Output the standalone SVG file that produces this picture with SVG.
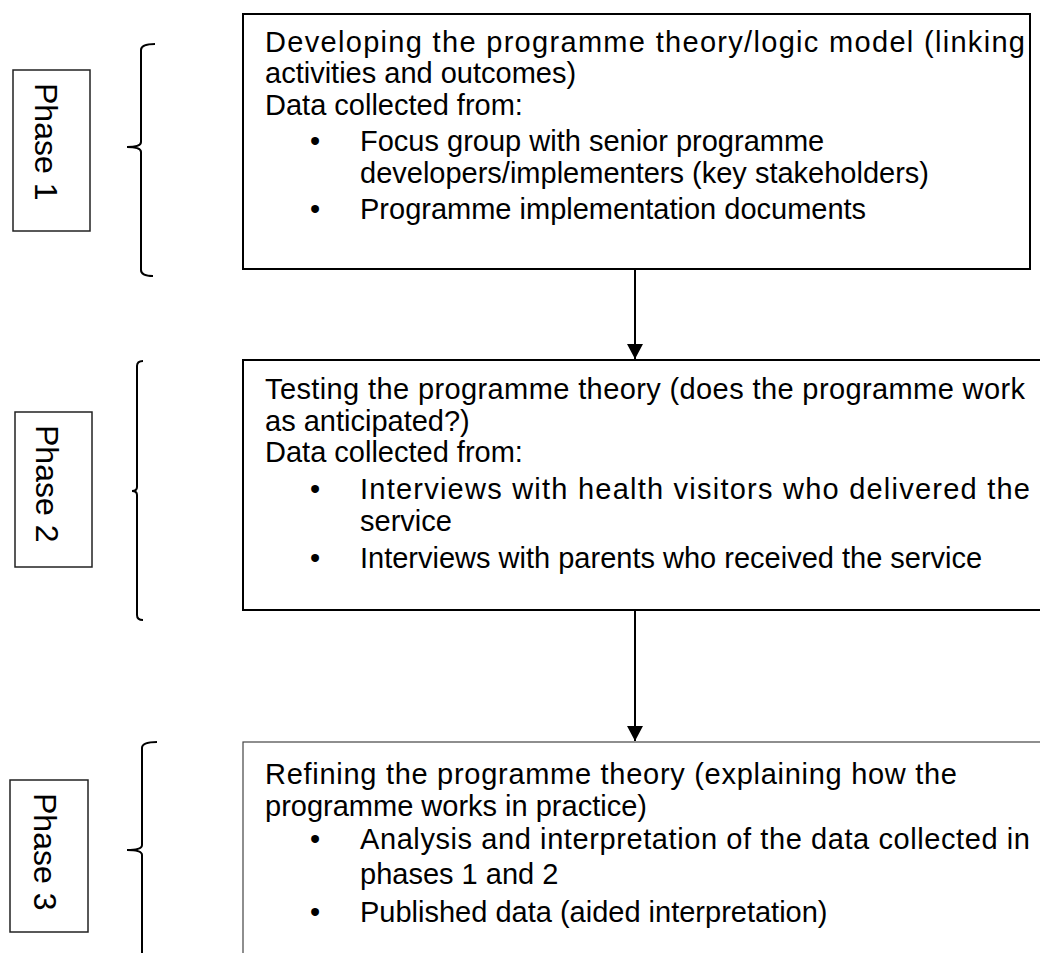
<svg xmlns="http://www.w3.org/2000/svg" width="1040" height="953" viewBox="0 0 1040 953">
<style>
  text { font-family: "Liberation Sans", Arial, sans-serif; font-size: 29px; fill: #000; }
  .ph { font-size: 32px; }
  .box { fill: #fff; stroke: #000; stroke-width: 2; }
  .box3 { fill: #fff; stroke: #444; stroke-width: 1.2; }
  .pbox { fill: #fff; stroke: #222; stroke-width: 1.5; }
  .brace { fill: none; stroke: #000; stroke-width: 2; }
  .conn { stroke: #000; stroke-width: 2; fill: none; }
</style>
<defs>
  <marker id="arr" markerWidth="16" markerHeight="16" refX="15" refY="8" orient="auto" markerUnits="userSpaceOnUse">
    <path d="M0,0 L15,8 L0,16 Z" fill="#000"/>
  </marker>
</defs>
<rect width="1040" height="953" fill="#fff"/>

<g id="brace1"><path class="brace" d="M155,44 Q141,44 141,50 L141,142 Q141,147 127,147 Q141,147 141,152 L141,270 Q141,276 153,276"/></g>
<g id="brace2"><path class="brace" d="M143,361 Q137,361 137,366 L137,487 Q137,491 132,491 Q137,491 137,495 L137,615 Q137,620 143,620"/></g>
<g id="brace3"><path class="brace" d="M157,742 Q142,742 142,748 L142,845 Q142,850 127,850 Q142,850 142,855 L142,960"/></g>

<g id="phase1">
  <rect class="pbox" x="13" y="70" width="77" height="161"/>
  <text class="ph" transform="translate(35,83) rotate(90)">Phase 1</text>
</g>
<g id="phase2">
  <rect class="pbox" x="15" y="412" width="77" height="155"/>
  <text class="ph" transform="translate(36,425) rotate(90)">Phase 2</text>
</g>
<g id="phase3">
  <rect class="pbox" x="10" y="780" width="78" height="152"/>
  <text class="ph" transform="translate(34,793) rotate(90)">Phase 3</text>
</g>

<g id="box1">
  <rect class="box" x="243" y="14" width="787" height="255"/>
  <text x="265" y="52" textLength="760" lengthAdjust="spacing">Developing the programme theory/logic model (linking</text>
  <text x="265" y="83">activities and outcomes)</text>
  <text x="265" y="115">Data collected from:</text>
  <text x="310" y="151">•</text>
  <text x="360" y="151">Focus group with senior programme</text>
  <text x="360" y="183">developers/implementers (key stakeholders)</text>
  <text x="310" y="219">•</text>
  <text x="360" y="219">Programme implementation documents</text>
</g>

<g id="box2">
  <rect class="box" x="243" y="360" width="810" height="250"/>
  <text x="265" y="399" textLength="760" lengthAdjust="spacing">Testing the programme theory (does the programme work</text>
  <text x="265" y="431">as anticipated?)</text>
  <text x="265" y="462">Data collected from:</text>
  <text x="310" y="499">•</text>
  <text x="360" y="499" textLength="670" lengthAdjust="spacing">Interviews with health visitors who delivered the</text>
  <text x="360" y="531">service</text>
  <text x="310" y="568">•</text>
  <text x="360" y="568">Interviews with parents who received the service</text>
</g>

<g id="box3">
  <rect class="box3" x="243" y="742" width="810" height="230"/>
  <text x="265" y="784" textLength="692" lengthAdjust="spacing">Refining the programme theory (explaining how the</text>
  <text x="265" y="816">programme works in practice)</text>
  <text x="310" y="849">•</text>
  <text x="360" y="849" textLength="670" lengthAdjust="spacing">Analysis and interpretation of the data collected in</text>
  <text x="360" y="884">phases 1 and 2</text>
  <text x="310" y="922">•</text>
  <text x="360" y="922">Published data (aided interpretation)</text>
</g>

<g id="connectors">
  <line class="conn" x1="635" y1="270" x2="635" y2="359" marker-end="url(#arr)"/>
  <line class="conn" x1="635" y1="611" x2="635" y2="741" marker-end="url(#arr)"/>
</g>
</svg>
